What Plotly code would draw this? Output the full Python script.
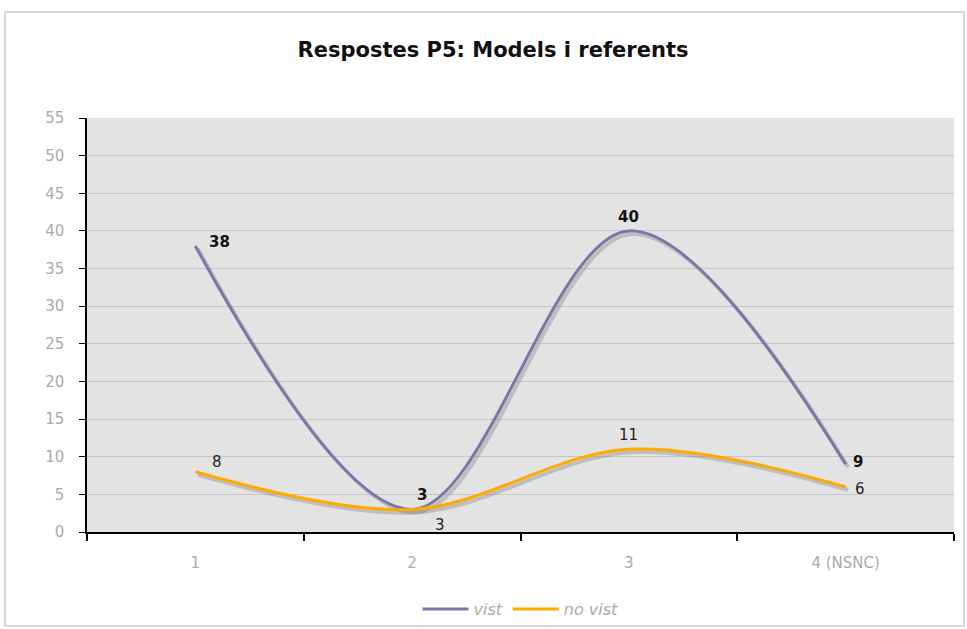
import plotly.graph_objects as go

categories = ["1", "2", "3", "4 (NSNC)"]
vist = [38, 3, 40, 9]
no_vist = [8, 3, 11, 6]
y_ticks = [0, 5, 10, 15, 20, 25, 30, 35, 40, 45, 50, 55]

W, H = 967, 629
L, R, T, B = 87, 13, 118, 97

fig = go.Figure()
xs = list(range(len(categories)))

# soft shadows
for vals in (vist, no_vist):
    fig.add_trace(go.Scatter(
        x=[x + 0.012 for x in xs], y=[v - 0.4 for v in vals], mode="lines",
        line=dict(color="rgba(120,120,120,0.35)", width=4, shape="spline", smoothing=1),
        hoverinfo="skip", showlegend=False, xaxis="x2"))

fig.add_trace(go.Scatter(x=xs, y=vist, mode="lines", name="vist",
                         line=dict(color="#7878a8", width=3, shape="spline", smoothing=1),
                         xaxis="x2"))
fig.add_trace(go.Scatter(x=xs, y=no_vist, mode="lines", name="no vist",
                         line=dict(color="#ffaa00", width=3, shape="spline", smoothing=1),
                         xaxis="x2"))

# data labels
vist_off = [(24, 4), (10, 14), (0, 14), (12, 2)]
novist_off = [(22, 10), (28, -16), (0, 14), (14, -2)]
for i, v in enumerate(vist):
    dx, dy = vist_off[i]
    fig.add_annotation(x=xs[i], y=v, xref="x2", yref="y", text=f"<b>{v}</b>",
                       showarrow=False, xshift=dx, yshift=dy,
                       font=dict(family="DejaVu Sans", size=15, color="#111111"))
for i, v in enumerate(no_vist):
    dx, dy = novist_off[i]
    fig.add_annotation(x=xs[i], y=v, xref="x2", yref="y", text=str(v),
                       showarrow=False, xshift=dx, yshift=dy,
                       font=dict(family="DejaVu Sans", size=15, color="#222222"))

# outer frame
pw, ph = W - L - R, H - T - B
def px(x): return (x - L) / pw
def py(y): return 1 - (y - T) / ph
fig.add_shape(type="rect", xref="paper", yref="paper",
              x0=px(5), x1=px(964), y0=py(626), y1=py(12),
              line=dict(color="#cccccc", width=1.5), fillcolor="rgba(0,0,0,0)", layer="below")

fig.update_layout(
    width=W, height=H,
    margin=dict(l=L, r=R, t=T, b=B, autoexpand=False),
    paper_bgcolor="white",
    plot_bgcolor="#e3e3e3",
    title=dict(text="<b>Respostes P5: Models i referents</b>", x=493 / W,
               xanchor="center", xref="container",
               y=1 - 50 / H, yanchor="middle",
               font=dict(family="DejaVu Sans", size=21, color="#111111")),
    xaxis=dict(type="category", categoryorder="array", categoryarray=categories,
               tickson="boundaries", ticks="outside", ticklen=7, tickcolor="black",
               tickwidth=1.5, showline=True, linecolor="black", linewidth=1.5,
               showgrid=False, range=[-0.5, 3.5], tickvals=categories, ticktext=categories,
               tickfont=dict(family="DejaVu Sans", size=15, color="#aaaaaa"),
               ticklabelstandoff=16, automargin=False),
    xaxis2=dict(overlaying="x", range=[-0.5, 3.5], visible=False, showgrid=False),
    yaxis=dict(range=[0, 55], tickvals=y_ticks, ticks="outside", ticklen=6,
               tickcolor="black", showline=True, linecolor="black", linewidth=1.5,
               gridcolor="#c6c6c6", gridwidth=1, zeroline=False, automargin=False,
               ticklabelstandoff=12,
               tickfont=dict(family="DejaVu Sans", size=15, color="#aaaaaa")),
    legend=dict(orientation="h", x=0.5, xanchor="center", y=-(609 - 532) / ph, yanchor="middle",
                font=dict(family="DejaVu Sans", size=16, color="#aaaaaa", style="italic"),
                traceorder="normal", itemwidth=46, bgcolor="rgba(0,0,0,0)"),
    showlegend=True,
)
# dummy trace on x so the category axis renders
fig.add_trace(go.Scatter(x=categories, y=[None] * 4, mode="lines", showlegend=False,
                         hoverinfo="skip"))

fig.write_html("out.html", config={"displayModeBar": False},
               post_script="document.body.style.margin='0';document.body.style.overflow='hidden';")
